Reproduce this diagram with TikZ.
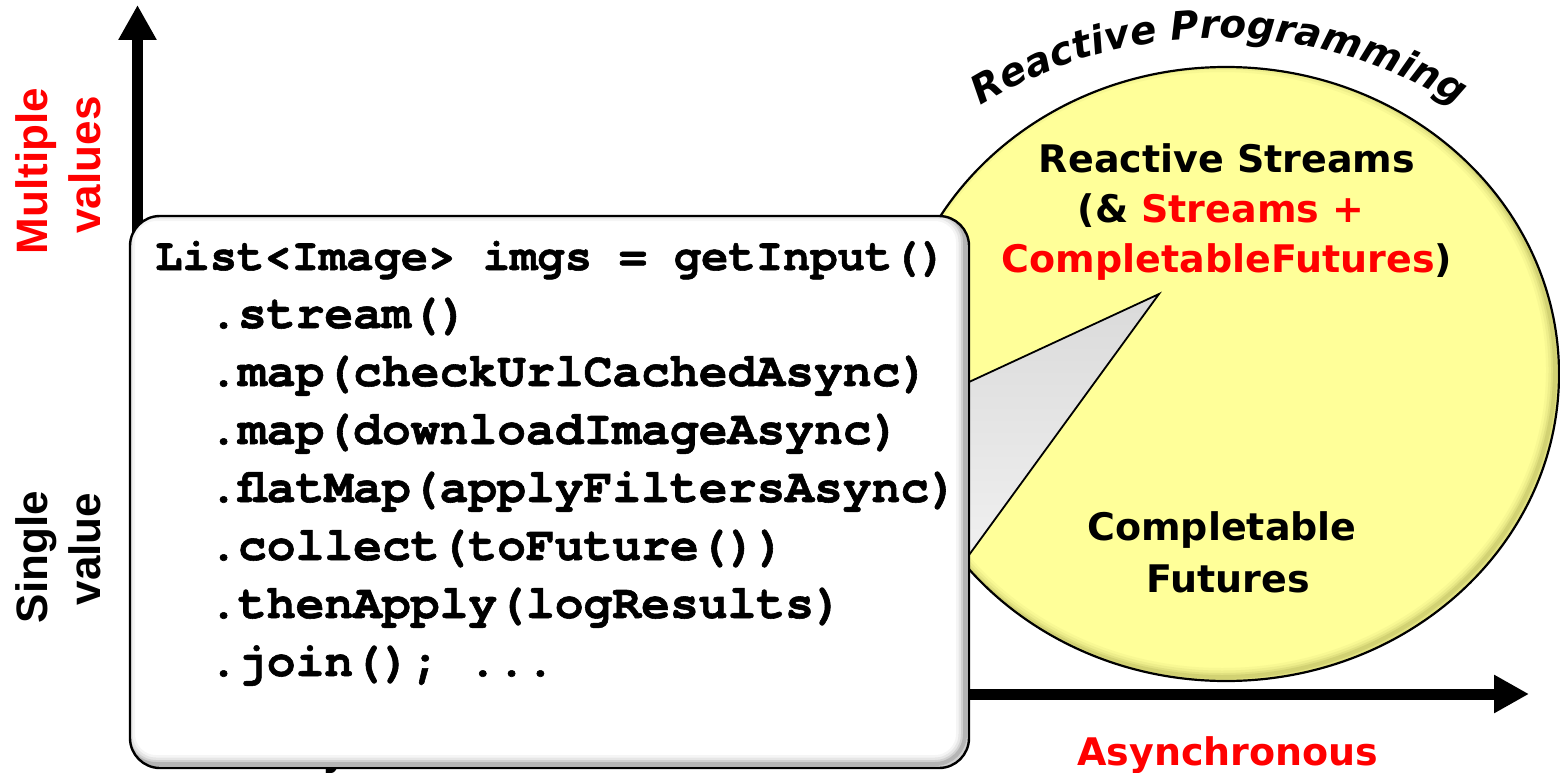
\documentclass[tikz,border=0pt]{standalone}
\usepackage{fontspec}
\usetikzlibrary{arrows.meta,decorations.text,calc}
\newfontfamily\verd{DejaVu Sans}
\newfontfamily\arl{Liberation Sans}
\newfontfamily\cour{TeX Gyre Cursor}[BoldFeatures={FakeBold=1.2}]
\newfontfamily\rpfam{DejaVu Sans Bold Oblique}
\newcommand\rpfont{\rpfam\fontsize{39}{44}\selectfont}
\definecolor{pale}{RGB}{255,255,153}
\definecolor{bevel}{RGB}{120,120,40}
\definecolor{ptrtop}{RGB}{218,218,218}
\definecolor{ptrbot}{RGB}{244,244,244}
\begin{document}
\begin{tikzpicture}[x=1pt,y=-1pt,
  axis/.style={line width=11pt,-{Triangle[width=36pt,length=35pt]}},
  sans/.style={font=\verd\bfseries\fontsize{38}{46}\selectfont,inner sep=0pt,anchor=base},
  side/.style={font=\arl\bfseries\fontsize{44}{50}\selectfont,inner sep=0pt,rotate=90,anchor=base},
  code/.style={font=\cour\bfseries\fontsize{48}{58}\selectfont,inner sep=0pt,anchor=base west},
  outline/.style={draw=black,line width=2.4pt}]
\useasboundingbox (0,0) rectangle (1560,773);
\fill[white] (0,0) rectangle (1560,773);

% axes
\coordinate (origin) at (137.5,694);
\coordinate (ytip) at (137.5,5);
\coordinate (xtip) at (1529,694);
\draw[axis] (origin) -- (ytip);
\draw[axis] (origin) -- (xtip);

% axis captions
\node[sans,text=red] (async) at (1228,765) {Asynchronous};
\node[sans] (sync) at (433,765) {Synchronous};
\node[side,text=red] (mv1) at (47,171) {Multiple};
\node[side,text=red] (mv2) at (100,165) {values};
\node[side] (sv1) at (47,557) {Single};
\node[side] (sv2) at (100,549) {value};

% reactive programming disc
\fill[pale] (1226,374) ellipse [x radius=333, y radius=307];
\begin{scope}
  \clip (1226,374) ellipse [x radius=333, y radius=307];
  \foreach \w/\o in {18/0.05,13/0.07,8/0.10,4/0.14}
    \draw[bevel,line width=\w pt,opacity=\o] (1222,370) ellipse [x radius=333, y radius=307];
\end{scope}
\draw[line width=2.2pt] (1226,374) ellipse [x radius=333, y radius=307];

\coordinate (rpc) at (1219,488);
\path[decorate,decoration={text along path,text align=center,
  text={|\rpfont|Reactive Programming}}]
  (rpc) ++(228:450) arc[start angle=228,end angle=312,radius=450];

\node[sans] (rs1) at (1227,172) {Reactive Streams};
\node[sans] (rs2) at (1221,222) {(\& \textcolor{red}{Streams +}};
\node[sans] (rs3) at (1227,272) {\textcolor{red}{CompletableFutures})};
\node[sans] (cf1) at (1222,540) {Completable};
\node[sans] (cf2) at (1228,592) {Futures};

% callout pointer
\coordinate (tip) at (1159,294);
\coordinate (pa) at (969,382);
\coordinate (pb) at (969,555);
\shade[top color=ptrtop,bottom color=ptrbot]
  (tip) -- ($(tip)!1.2!(pa)$) -- ($(tip)!1.2!(pb)$) -- cycle;
\draw[line width=1.8pt] ($(tip)!1.2!(pa)$) -- (tip) -- ($(tip)!1.2!(pb)$);

% code box
\fill[white,rounded corners=30pt] (130,216) rectangle (969,768);
\begin{scope}
  \clip[rounded corners=30pt] (130,216) rectangle (969,768);
  \foreach \w/\o in {18/0.04,13/0.06,8/0.09,4/0.13}
    \draw[black,line width=\w pt,opacity=\o,rounded corners=30pt] (126,212) rectangle (965,764);
\end{scope}
\draw[outline,rounded corners=30pt] (130,216) rectangle (969,768);

\node[code,font=\cour\bfseries\fontsize{45.5}{58}\selectfont] (code1) at (155,270) {List<Image> imgs = getInput()};
\node[code] (code2) at (209,328) {.stream()};
\node[code] (code3) at (209,386) {.map(checkUrlCachedAsync)};
\node[code] (code4) at (209,444) {.map(downloadImageAsync)};
\node[code] (code5) at (209,502) {.flatMap(applyFiltersAsync)};
\node[code] (code6) at (209,560) {.collect(toFuture())};
\node[code] (code7) at (209,618) {.thenApply(logResults)};
\node[code] (code8) at (209,676) {.join(); ...};
\end{tikzpicture}
\end{document}
